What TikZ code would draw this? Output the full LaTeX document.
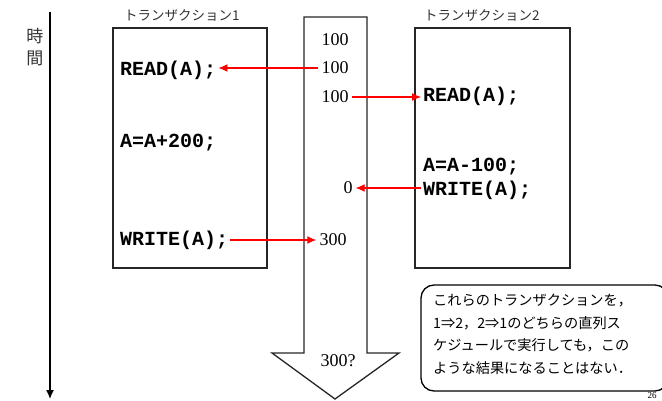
\documentclass[tikz,border=0pt]{standalone}
\usepackage{fontspec}
\setmainfont{Liberation Serif}
\newfontfamily\jpfont{Noto Sans CJK JP}
\newfontfamily\codefont{Liberation Mono}
\usetikzlibrary{arrows.meta}
\tikzset{
  box/.style={draw=black!85, line width=1.3pt},
  code/.style={font=\codefont\bfseries\fontsize{20}{20}\selectfont, anchor=west, inner xsep=2pt, inner ysep=0pt},
  val/.style={font=\fontsize{18}{18}\selectfont, inner xsep=3pt, inner ysep=0pt},
  title/.style={font=\jpfont\fontsize{13.5}{14}\selectfont, text=black!80, anchor=west, inner sep=0pt},
  redarr/.style={draw=red, line width=1.2pt, -{Latex[length=9pt,width=8pt]}},
}
\begin{document}
\begin{tikzpicture}[x=1pt,y=-1pt]
\useasboundingbox (0,0) rectangle (662,401);
% time axis
\coordinate (t0) at (50,12);
\coordinate (t1) at (50,399);
\draw[line width=1.3pt, -{Latex[length=9pt,width=8pt]}] (t0) -- (t1);
\node[font=\jpfont\fontsize{17}{22}\selectfont, align=center, inner sep=0pt, text=black!80] (jikan) at (35,47) {時\\間};
% transaction boxes
\draw[box] (113,28) rectangle (267,268);
\node[title] (t1title) at (124,15) {トランザクション1};
\draw[box] (415,28) rectangle (570,268);
\node[title] (t2title) at (424,15) {トランザクション2};
% big arrow
\draw[box, fill=white, line join=miter] (304,17) -- (367,17) -- (367,353) -- (399,353) -- (335,399) -- (272,353) -- (304,353) -- cycle;
% code T1
\node[code] (r1) at (118,70) {READ(A);};
\node[code] (c1) at (118,143) {A=A+200;};
\node[code] (w1) at (118,240) {WRITE(A);};
% code T2
\node[code] (r2) at (421,96) {READ(A);};
\node[code] (c2) at (421,167) {A=A-100;};
\node[code] (w2) at (421,190) {WRITE(A);};
% values
\node[val] (v1) at (335,40) {100};
\node[val] (v2) at (335,68) {100};
\node[val] (v3) at (335,97) {100};
\node[val] (v4) at (348,188) {0};
\node[val] (v5) at (333,240) {300};
\node[val] (v6) at (338,361) {300?};
% red arrows
\draw[redarr] (v2.west) -- (r1.east |- v2.west);
\draw[redarr] (v3.east) -- (r2.west |- v3.east);
\draw[redarr] (w2.west |- v4.east) -- (v4.east);
\draw[redarr] (w1.east) -- (v5.west |- w1.east);
% callout
\draw[line width=1.3pt, rounded corners=13pt] (421,285) rectangle (668,391);
\node[font=\jpfont\fontsize{14.2}{22.5}\selectfont, align=left, anchor=north west, inner sep=0pt] (note) at (433,294) {これらのトランザクションを，\\1⇒2，2⇒1のどちらの直列ス\\ケジュールで実行しても，この\\ような結果になることはない．};
\node[font=\fontsize{9}{9}\selectfont, inner sep=0pt] (pg) at (652,396) {26};
\end{tikzpicture}
\end{document}
